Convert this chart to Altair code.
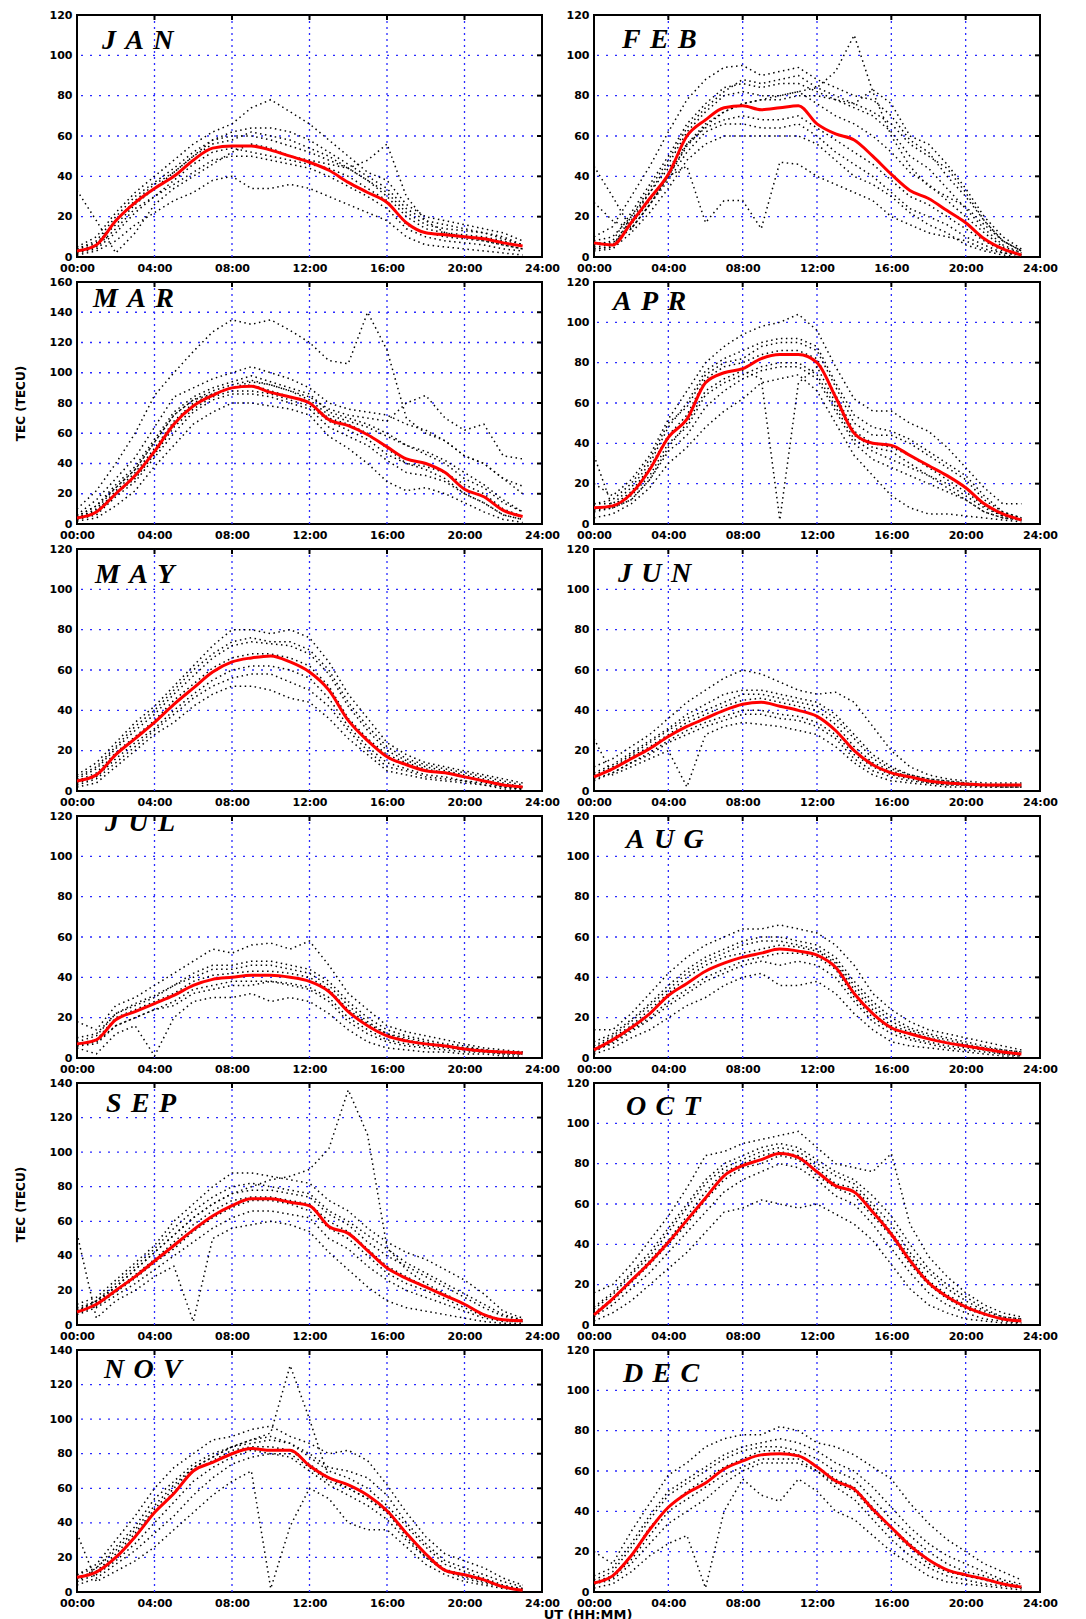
import altair as alt
import pandas as pd

HOURS = list(range(24))
X_TICKS = [0, 4, 8, 12, 16, 20, 24]
GRID_HOURS = [4, 8, 12, 16, 20]
MONTHS = ["JAN", "FEB", "MAR", "APR", "MAY", "JUN",
          "JUL", "AUG", "SEP", "OCT", "NOV", "DEC"]
YMAX = [120, 120, 160, 120, 120, 120, 120, 120, 140, 120, 140, 120]

# ---- monthly mean (red) curves, hourly 00..23 UT ----
JAN_MEAN = [3, 6, 18, 27, 34, 40, 48, 54, 55, 55, 53, 50, 47, 43, 37, 32, 27, 17, 12, 11, 10, 9, 7, 5.5]
FEB_MEAN = [7, 6, 17, 29, 41, 60, 68, 74, 75, 73, 74, 75, 66, 61, 58, 50, 41, 33, 29, 23, 17, 9, 4, 1]
MAR_MEAN = [4, 8, 20, 32, 48, 66, 78, 85, 90, 91, 87, 84, 80, 69, 65, 59, 51, 43, 40, 34, 23, 18, 9, 5]
APR_MEAN = [8, 9, 15, 27, 43, 52, 70, 75, 77, 82, 84, 84, 80, 63, 45, 40, 39, 34, 29, 24, 18, 10, 5, 2]
MAY_MEAN = [5, 8, 18, 26, 34, 43, 51, 59, 64, 66, 67, 64, 59, 50, 35, 25, 17, 13, 10, 9, 7, 5, 3, 2]
JUN_MEAN = [7, 11, 16, 21, 27, 32, 36, 40, 43, 44, 42, 40, 37, 30, 20, 13, 9, 7, 5, 4, 3.5, 3, 3, 3]
JUL_MEAN = [7, 9, 19, 23, 27, 31, 36, 39, 40, 41, 41, 40, 38, 33, 23, 16, 11, 8.5, 7, 6, 4.5, 3.5, 3, 2.5]
AUG_MEAN = [4, 9, 15, 22, 31, 37, 43, 47, 50, 52, 54, 53, 51, 45, 32, 22, 15, 12, 9.5, 7.5, 6, 4.5, 3, 2]
SEP_MEAN = [7.5, 12, 20, 28, 37, 46, 55, 63, 69, 73, 73, 71, 69, 57, 53, 43, 33, 27, 22, 17, 12, 6, 3, 2.5]
OCT_MEAN = [5, 13, 22, 31, 41, 52, 63, 74, 79, 82, 85, 83, 76, 69, 66, 56, 45, 32, 21, 14, 9, 5.5, 3, 2]
NOV_MEAN = [8.5, 11.5, 20, 32, 46, 57, 70, 75, 80, 83, 82, 82, 73, 66, 62, 56, 47, 34, 22, 12.5, 10, 7, 3, 1]
DEC_MEAN = [4.5, 8, 18, 31, 42, 49, 54, 61, 65, 68, 68.5, 67.5, 62, 55, 51, 41, 32, 23, 16, 11, 8.5, 6.5, 4, 2.5]

# ---- individual daily curves (dotted), hourly 00..23 UT ----
JAN_DAYS = [
    [5, 10, 22, 32, 40, 48, 56, 62, 66, 74, 78, 72, 66, 58, 50, 42, 38, 26, 20, 18, 16, 14, 12, 8],
    [4, 8, 20, 30, 37, 44, 52, 58, 60, 60, 58, 55, 52, 48, 44, 38, 32, 22, 16, 14, 13, 12, 10, 6],
    [2, 5, 14, 24, 30, 36, 42, 48, 50, 50, 48, 46, 44, 40, 35, 30, 24, 14, 10, 8, 7, 6, 4, 3],
    [1, 3, 8, 16, 22, 28, 32, 38, 40, 34, 34, 36, 34, 30, 26, 22, 18, 10, 6, 5, 4, 3, 2, 1],
    [33, 18, 2, 12, 26, 34, 40, 46, 52, 56, 54, 50, 48, 46, 44, 48, 56, 30, 18, 12, 10, 8, 6, 4],
    [3, 6, 18, 28, 36, 42, 50, 56, 58, 62, 60, 58, 54, 50, 44, 38, 30, 20, 14, 12, 11, 10, 8, 5],
    [2, 4, 12, 22, 30, 38, 46, 52, 54, 52, 50, 48, 46, 44, 40, 34, 28, 16, 12, 10, 9, 8, 6, 4],
    [4, 7, 16, 26, 34, 42, 50, 58, 62, 64, 64, 62, 58, 52, 46, 40, 34, 24, 18, 16, 14, 12, 9, 6],
]
FEB_DAYS = [
    [10, 15, 30, 45, 62, 78, 88, 94, 95, 90, 92, 94, 88, 84, 80, 78, 70, 58, 52, 40, 30, 18, 8, 3],
    [6, 8, 22, 36, 50, 66, 76, 84, 86, 84, 86, 86, 82, 78, 74, 70, 62, 50, 44, 34, 24, 14, 6, 2],
    [4, 5, 16, 28, 40, 56, 64, 68, 70, 68, 68, 70, 64, 58, 52, 46, 38, 30, 26, 20, 14, 8, 3, 1],
    [3, 4, 12, 22, 34, 48, 56, 60, 60, 60, 60, 60, 56, 48, 40, 36, 30, 22, 16, 12, 6, 3, 1, 0],
    [27, 18, 14, 26, 40, 55, 65, 72, 76, 78, 80, 82, 84, 92, 110, 82, 60, 45, 35, 30, 25, 16, 8, 3],
    [45, 30, 14, 26, 40, 45, 17, 28, 28, 14, 47, 46, 40, 36, 32, 28, 20, 16, 12, 10, 8, 4, 2, 1],
    [8, 10, 20, 32, 44, 56, 66, 72, 76, 78, 78, 80, 80, 78, 76, 83, 76, 60, 56, 46, 34, 20, 10, 4],
    [5, 6, 18, 32, 46, 62, 72, 80, 82, 80, 80, 82, 76, 70, 66, 60, 52, 42, 36, 28, 20, 12, 5, 2],
    [7, 7, 14, 26, 38, 52, 62, 66, 66, 64, 64, 66, 60, 52, 46, 40, 32, 24, 20, 16, 10, 6, 2, 1],
    [4, 5, 20, 34, 48, 64, 74, 82, 88, 86, 88, 90, 84, 80, 76, 72, 66, 56, 50, 44, 32, 18, 8, 3],
]
MAR_DAYS = [
    [6, 16, 30, 44, 64, 84, 90, 96, 100, 104, 100, 96, 90, 80, 76, 74, 72, 66, 62, 55, 45, 40, 30, 20],
    [4, 10, 24, 36, 54, 72, 82, 88, 92, 95, 92, 88, 82, 72, 68, 64, 58, 52, 46, 40, 30, 24, 14, 8],
    [3, 6, 18, 28, 44, 60, 74, 82, 86, 86, 84, 80, 76, 64, 58, 52, 42, 34, 32, 28, 20, 14, 6, 3],
    [2, 4, 12, 22, 38, 52, 66, 74, 80, 80, 78, 76, 72, 58, 50, 40, 28, 22, 24, 20, 14, 8, 3, 1],
    [10, 22, 40, 60, 85, 100, 114, 127, 135, 132, 135, 128, 120, 108, 106, 140, 115, 70, 60, 55, 45, 40, 30, 25],
    [5, 12, 24, 36, 54, 72, 82, 86, 90, 94, 92, 88, 84, 76, 72, 70, 68, 80, 85, 70, 62, 66, 45, 43],
    [3, 8, 22, 34, 50, 68, 80, 86, 90, 92, 88, 84, 80, 70, 66, 60, 50, 40, 36, 30, 20, 14, 6, 3],
    [4, 9, 20, 30, 46, 64, 76, 84, 88, 88, 86, 82, 78, 68, 62, 56, 46, 40, 38, 34, 26, 20, 10, 5],
    [5, 12, 26, 38, 56, 74, 84, 90, 94, 98, 94, 90, 86, 74, 70, 66, 60, 52, 48, 42, 34, 26, 16, 8],
]
APR_DAYS = [
    [20, 14, 22, 34, 52, 66, 80, 88, 94, 98, 100, 104, 96, 78, 62, 56, 56, 50, 46, 38, 28, 18, 10, 10],
    [10, 10, 18, 30, 48, 60, 76, 82, 86, 90, 92, 92, 88, 70, 54, 48, 46, 42, 36, 30, 24, 14, 6, 3],
    [6, 8, 14, 24, 40, 48, 64, 70, 74, 78, 80, 80, 74, 58, 42, 36, 32, 28, 24, 20, 14, 8, 4, 2],
    [3, 5, 10, 18, 30, 38, 48, 56, 62, 70, 72, 74, 66, 50, 34, 24, 14, 8, 5, 5, 4, 3, 2, 1],
    [34, 8, 12, 22, 38, 50, 66, 72, 76, 72, 2, 70, 78, 60, 44, 38, 36, 30, 24, 18, 12, 6, 3, 2],
    [8, 9, 16, 28, 44, 54, 72, 78, 80, 84, 86, 86, 82, 64, 46, 40, 38, 34, 28, 22, 16, 9, 4, 2],
    [10, 12, 20, 32, 50, 58, 74, 80, 82, 88, 90, 90, 86, 68, 50, 44, 44, 40, 34, 28, 22, 12, 6, 3],
    [7, 8, 12, 22, 36, 44, 58, 66, 72, 76, 78, 78, 72, 56, 40, 32, 28, 24, 20, 16, 12, 6, 3, 2],
]
MAY_DAYS = [
    [8, 14, 24, 34, 42, 52, 62, 72, 80, 80, 78, 80, 76, 64, 48, 36, 24, 18, 14, 12, 10, 8, 6, 4],
    [6, 11, 21, 30, 38, 48, 57, 66, 72, 74, 73, 72, 68, 58, 42, 30, 20, 15, 12, 10, 8, 6, 4, 2],
    [4, 7, 16, 24, 31, 40, 48, 55, 60, 62, 62, 60, 56, 46, 32, 22, 14, 11, 8, 7, 5, 4, 2, 1],
    [2, 4, 12, 20, 28, 34, 42, 48, 52, 52, 50, 46, 44, 36, 26, 18, 10, 8, 6, 5, 4, 3, 1, 1],
    [5, 9, 19, 27, 35, 45, 53, 61, 66, 68, 68, 66, 62, 52, 36, 26, 18, 14, 11, 9, 7, 5, 3, 2],
    [7, 12, 22, 32, 40, 50, 60, 68, 74, 76, 74, 74, 70, 60, 44, 32, 22, 16, 13, 11, 9, 7, 5, 3],
    [3, 6, 14, 22, 30, 38, 46, 52, 56, 58, 58, 54, 50, 42, 30, 20, 12, 10, 7, 6, 5, 3, 2, 1],
]
JUN_DAYS = [
    [12, 16, 22, 28, 36, 44, 50, 56, 60, 58, 54, 50, 48, 49, 44, 32, 20, 12, 8, 6, 5, 4, 4, 4],
    [9, 13, 19, 25, 31, 38, 43, 48, 50, 50, 48, 46, 44, 38, 28, 18, 12, 8, 6, 5, 4, 3, 3, 3],
    [6, 9, 14, 18, 24, 28, 32, 35, 38, 38, 36, 35, 32, 26, 16, 10, 7, 5, 4, 3, 3, 2, 2, 2],
    [26, 8, 12, 16, 20, 2, 28, 32, 34, 33, 32, 30, 28, 22, 14, 8, 5, 4, 3, 2, 2, 2, 2, 2],
    [7, 11, 17, 22, 28, 34, 38, 42, 45, 46, 44, 42, 40, 33, 22, 14, 10, 7, 5, 4, 3, 3, 3, 3],
    [8, 12, 18, 24, 30, 36, 40, 44, 48, 48, 46, 44, 42, 36, 26, 16, 11, 8, 6, 5, 4, 3, 3, 3],
    [5, 9, 14, 19, 25, 30, 34, 37, 40, 40, 38, 37, 34, 28, 18, 12, 8, 6, 4, 3, 3, 3, 2, 2],
]
JUL_DAYS = [
    [18, 14, 26, 30, 36, 42, 48, 54, 52, 56, 57, 54, 58, 46, 32, 24, 16, 13, 11, 9, 7, 5, 4, 3],
    [10, 12, 22, 27, 31, 36, 42, 46, 46, 48, 48, 46, 44, 38, 28, 20, 14, 11, 9, 7, 6, 4, 3, 3],
    [6, 8, 16, 20, 24, 26, 32, 34, 36, 36, 38, 36, 34, 28, 18, 12, 8, 6, 5, 4, 3, 3, 2, 2],
    [5, 2, 12, 16, 1, 20, 28, 30, 30, 32, 28, 30, 28, 22, 14, 8, 5, 4, 3, 3, 2, 2, 1, 1],
    [7, 9, 20, 24, 28, 32, 38, 41, 42, 43, 43, 42, 40, 34, 24, 17, 12, 9, 7, 6, 5, 4, 3, 2],
    [8, 11, 22, 26, 30, 36, 40, 44, 44, 46, 46, 44, 42, 36, 26, 18, 12, 10, 8, 6, 5, 4, 3, 3],
    [6, 7, 16, 20, 24, 28, 34, 36, 38, 38, 38, 37, 35, 30, 20, 14, 9, 7, 6, 5, 4, 3, 2, 2],
]
AUG_DAYS = [
    [14, 14, 22, 32, 42, 50, 56, 60, 64, 64, 66, 64, 62, 56, 46, 32, 24, 18, 14, 12, 10, 8, 6, 4],
    [8, 12, 19, 27, 36, 44, 50, 54, 58, 60, 60, 58, 56, 50, 38, 28, 20, 15, 12, 10, 8, 6, 4, 3],
    [4, 7, 13, 19, 26, 32, 38, 42, 46, 48, 46, 48, 46, 40, 28, 18, 12, 9, 7, 5, 4, 3, 2, 1],
    [2, 5, 10, 14, 20, 26, 30, 36, 40, 42, 36, 36, 38, 32, 22, 14, 8, 6, 5, 4, 3, 2, 1, 1],
    [5, 10, 16, 24, 32, 40, 46, 50, 52, 54, 56, 55, 53, 47, 34, 24, 16, 13, 10, 8, 6, 5, 3, 2],
    [6, 11, 18, 26, 34, 42, 48, 52, 56, 58, 58, 56, 54, 48, 36, 26, 18, 14, 11, 9, 7, 5, 4, 3],
    [3, 8, 14, 20, 28, 34, 40, 44, 48, 50, 52, 52, 50, 44, 30, 20, 14, 10, 8, 6, 5, 4, 2, 2],
]
SEP_DAYS = [
    [12, 16, 26, 36, 46, 60, 70, 80, 88, 88, 86, 84, 82, 72, 66, 56, 48, 42, 38, 32, 26, 18, 8, 4],
    [9, 13, 22, 32, 42, 52, 62, 70, 76, 78, 78, 76, 74, 64, 58, 48, 40, 34, 28, 22, 16, 10, 5, 3],
    [6, 10, 17, 24, 32, 40, 48, 56, 62, 66, 66, 64, 62, 50, 44, 34, 26, 20, 16, 12, 8, 4, 2, 2],
    [53, 4, 14, 20, 28, 34, 2, 50, 56, 58, 60, 58, 54, 42, 32, 22, 14, 10, 8, 6, 4, 2, 1, 1],
    [8, 14, 22, 32, 42, 52, 62, 70, 76, 80, 84, 86, 90, 102, 136, 110, 45, 32, 24, 18, 12, 6, 3, 2],
    [8, 12, 20, 29, 38, 48, 58, 66, 72, 74, 74, 72, 70, 60, 54, 44, 34, 28, 22, 17, 12, 6, 3, 2],
    [7, 11, 19, 27, 36, 44, 54, 62, 68, 72, 72, 70, 66, 56, 50, 40, 30, 24, 20, 15, 10, 5, 3, 2],
    [10, 14, 24, 34, 44, 56, 66, 74, 80, 82, 80, 78, 76, 66, 60, 52, 44, 36, 30, 24, 18, 12, 6, 3],
]
OCT_DAYS = [
    [16, 20, 30, 42, 54, 68, 84, 86, 90, 92, 94, 96, 88, 80, 78, 76, 85, 50, 34, 24, 16, 10, 6, 4],
    [9, 16, 26, 36, 48, 60, 72, 80, 84, 88, 90, 88, 82, 76, 72, 64, 54, 40, 28, 20, 14, 8, 4, 3],
    [4, 10, 18, 26, 36, 46, 56, 66, 72, 76, 80, 78, 72, 64, 60, 50, 38, 26, 16, 10, 6, 3, 2, 1],
    [2, 6, 12, 20, 28, 36, 46, 56, 58, 62, 60, 58, 60, 55, 50, 42, 30, 18, 10, 6, 3, 2, 1, 1],
    [6, 13, 22, 32, 42, 54, 66, 76, 80, 84, 86, 84, 78, 70, 68, 58, 46, 34, 22, 15, 10, 6, 3, 2],
    [5, 12, 21, 30, 40, 50, 62, 72, 78, 80, 84, 82, 74, 68, 64, 54, 44, 30, 20, 13, 8, 5, 3, 2],
    [8, 15, 25, 34, 46, 58, 70, 78, 82, 86, 88, 86, 80, 74, 70, 60, 50, 36, 26, 18, 12, 7, 4, 3],
]
NOV_DAYS = [
    [10, 16, 30, 44, 60, 72, 80, 88, 90, 94, 96, 90, 86, 80, 82, 76, 62, 46, 32, 22, 18, 14, 8, 4],
    [6, 14, 24, 36, 50, 62, 72, 78, 84, 86, 88, 86, 80, 72, 70, 66, 56, 40, 28, 18, 14, 10, 6, 3],
    [4, 8, 16, 24, 34, 44, 56, 66, 74, 78, 80, 78, 70, 62, 56, 50, 42, 30, 20, 12, 8, 5, 3, 2],
    [34, 6, 12, 18, 26, 36, 46, 56, 64, 70, 2, 38, 60, 54, 40, 36, 36, 26, 16, 10, 6, 4, 2, 1],
    [8, 12, 22, 34, 48, 60, 72, 78, 84, 88, 92, 131, 100, 66, 60, 54, 46, 34, 22, 12, 10, 7, 3, 1],
    [8, 12, 20, 32, 46, 58, 70, 76, 82, 84, 84, 82, 74, 66, 62, 56, 48, 34, 22, 13, 10, 7, 3, 1],
    [6, 10, 18, 28, 40, 52, 64, 72, 78, 82, 80, 80, 72, 64, 60, 54, 46, 32, 20, 12, 9, 6, 3, 1],
    [10, 14, 26, 38, 54, 64, 74, 80, 84, 88, 90, 86, 78, 70, 66, 60, 50, 38, 26, 16, 12, 8, 4, 2],
]
DEC_DAYS = [
    [20, 14, 30, 44, 58, 64, 72, 76, 78, 78, 82, 80, 74, 72, 68, 62, 56, 44, 34, 26, 20, 14, 10, 6],
    [8, 12, 24, 38, 50, 56, 62, 68, 72, 74, 76, 74, 70, 64, 60, 52, 42, 32, 24, 18, 14, 10, 6, 4],
    [4, 6, 14, 24, 34, 40, 46, 54, 60, 64, 64, 64, 60, 52, 46, 36, 26, 18, 12, 8, 6, 4, 3, 2],
    [2, 4, 10, 18, 24, 28, 2, 40, 56, 48, 45, 56, 50, 40, 36, 28, 20, 14, 8, 5, 4, 3, 2, 1],
    [5, 8, 18, 32, 42, 50, 56, 62, 66, 70, 70, 68, 62, 56, 52, 42, 32, 24, 16, 11, 8, 6, 4, 2],
    [4, 7, 16, 28, 40, 46, 52, 58, 62, 66, 66, 66, 60, 54, 50, 40, 30, 22, 14, 10, 8, 6, 4, 2],
    [6, 10, 22, 36, 48, 54, 60, 66, 70, 72, 72, 70, 66, 60, 56, 46, 36, 28, 20, 14, 10, 8, 5, 3],
]

MEANS = [JAN_MEAN, FEB_MEAN, MAR_MEAN, APR_MEAN, MAY_MEAN, JUN_MEAN,
         JUL_MEAN, AUG_MEAN, SEP_MEAN, OCT_MEAN, NOV_MEAN, DEC_MEAN]
DAYS = [JAN_DAYS, FEB_DAYS, MAR_DAYS, APR_DAYS, MAY_DAYS, JUN_DAYS,
        JUL_DAYS, AUG_DAYS, SEP_DAYS, OCT_DAYS, NOV_DAYS, DEC_DAYS]

# ---- layout / style (not data) ----
LABEL_POS = [(25, 26), (28, 25), (16, 17), (19, 20), (18, 26), (24, 25),
             (28, 7), (32, 24), (29, 21), (32, 24), (27, 20), (29, 24)]
W_LEFT, W_RIGHT, H = 465, 446, 242
BLUE = "#2a2aff"
AXIS_FONT = "DejaVu Sans"
TICK_LEN = 5


def panel(i, width):
    month = MONTHS[i]
    ymax = YMAX[i]
    rows = []
    for d, vals in enumerate(DAYS[i]):
        for h, v in zip(HOURS, vals):
            rows.append({"hour": h, "tec": v, "day": d})
    days_df = pd.DataFrame(rows)
    mean_df = pd.DataFrame({"hour": HOURS, "tec": MEANS[i]})
    ygrid = list(range(20, ymax, 20))

    xs = alt.Scale(domain=[0, 24], nice=False, zero=False)
    ys = alt.Scale(domain=[0, ymax], nice=False)
    xaxis = alt.Axis(values=X_TICKS, title=None, grid=False, domain=False, ticks=False,
                     labelExpr="(datum.value < 10 ? '0' : '') + datum.value + ':00'",
                     labelPadding=5, labelFlush=False, labelOverlap=False,
                     labelFont=AXIS_FONT, labelFontWeight="bold", labelFontSize=11,
                     labelColor="black")
    ytitle = "TEC (TECU)" if month in ("MAR", "SEP") else None
    yaxis = alt.Axis(values=list(range(0, ymax + 1, 20)), title=ytitle, grid=False,
                     domain=False, ticks=False, labelPadding=5, labelOverlap=False,
                     labelFlush=False,
                     labelFont=AXIS_FONT, labelFontWeight="bold", labelFontSize=11,
                     labelColor="black", titleFont=AXIS_FONT, titleFontWeight="bold",
                     titleFontSize=12, titleColor="black", titlePadding=22)

    X = alt.X("hour:Q", scale=xs, axis=xaxis)
    Y = alt.Y("tec:Q", scale=ys, axis=yaxis)

    gx = alt.Chart(pd.DataFrame({"hour": GRID_HOURS})).mark_rule(
        color=BLUE, strokeDash=[2, 4], strokeWidth=1.3).encode(x=X)
    gy = alt.Chart(pd.DataFrame({"tec": ygrid})).mark_rule(
        color=BLUE, strokeDash=[2, 7], strokeWidth=1.3).encode(y=Y)
    # small inward ticks on the top and right frame edges
    tx = alt.Chart(pd.DataFrame({"hour": GRID_HOURS})).mark_rule(
        color="black", strokeWidth=2).encode(
        x=X, y=alt.value(0), y2=alt.value(TICK_LEN))
    ty = alt.Chart(pd.DataFrame({"tec": ygrid})).mark_rule(
        color="black", strokeWidth=2).encode(
        y=Y, x=alt.value(width - TICK_LEN), x2=alt.value(width))
    dotted = alt.Chart(days_df).mark_line(
        color="#000000", strokeDash=[1.5, 3.5], strokeWidth=1.5).encode(
        x=X, y=Y, detail="day:N")
    mean = alt.Chart(mean_df).mark_line(
        color="#ff0000", strokeWidth=3, interpolate="monotone").encode(x=X, y=Y)
    lx, ly = LABEL_POS[i]
    label = alt.Chart(pd.DataFrame({"t": ["\u2004".join(month)]})).mark_text(
        font="Liberation Serif", fontStyle="italic", fontWeight="bold", fontSize=28,
        align="left", baseline="middle", color="black", clip=True).encode(
        text="t:N", x=alt.value(lx), y=alt.value(ly))
    layers = [gx, gy, tx, ty, dotted, mean, label]
    if month == "DEC":
        ut = alt.Chart(pd.DataFrame({"t": ["UT (HH:MM)"]})).mark_text(
            font=AXIS_FONT, fontWeight="bold", fontSize=13, align="center",
            baseline="middle", color="black").encode(
            text="t:N", x=alt.value(-6), y=alt.value(H + 23))
        layers.append(ut)
    return alt.layer(*layers).properties(width=width, height=H)


panels = [panel(i, W_LEFT if i % 2 == 0 else W_RIGHT) for i in range(12)]

chart = alt.concat(
    *panels, columns=2, bounds="flush", spacing={"row": 25, "column": 52}
).properties(
    padding={"left": 5, "top": 0, "right": 5, "bottom": 0},
    background="white",
).configure_view(stroke="black", strokeWidth=2)

chart.save("out.html", embed_options={"renderer": "svg", "actions": False})
